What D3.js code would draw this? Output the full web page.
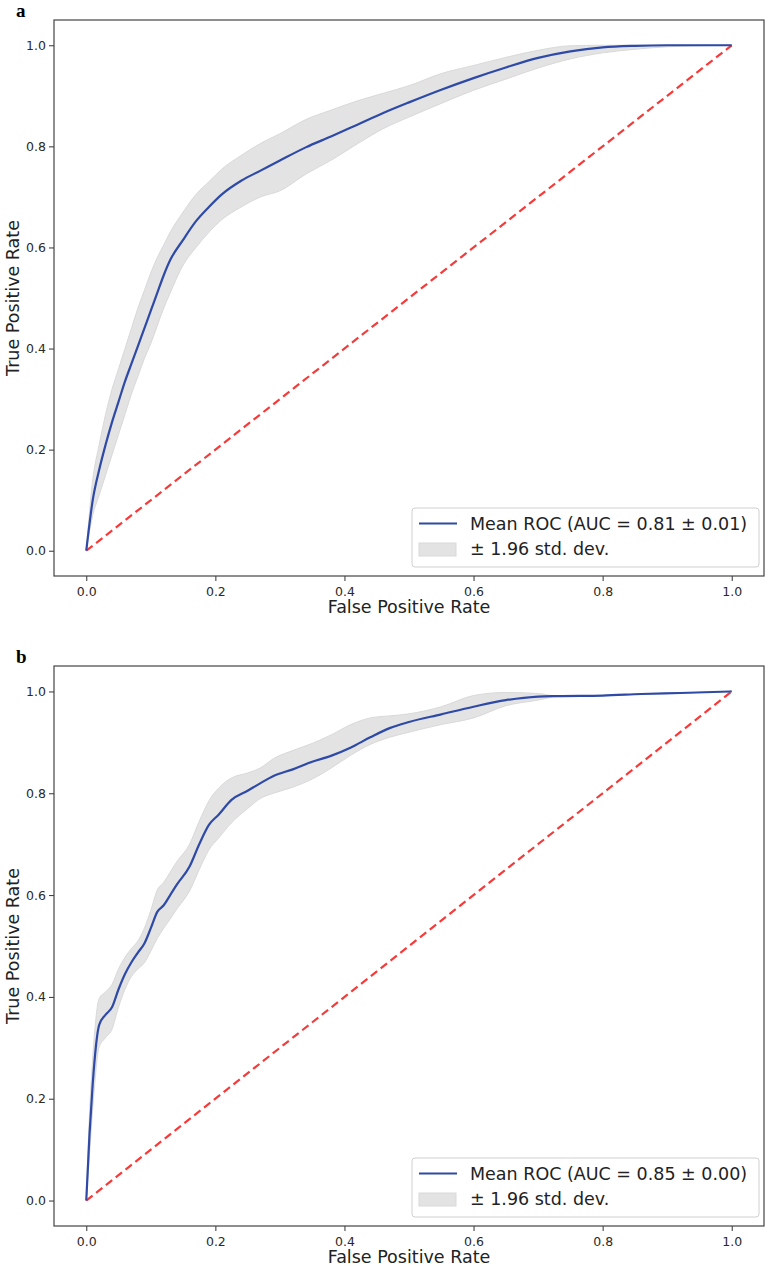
<!DOCTYPE html>
<html>
<head>
<meta charset="utf-8">
<script src="https://cdn.jsdelivr.net/npm/d3@7"></script>
<style>
  body { margin: 0; background: #fff; }
  svg { display: block; font-family: "DejaVu Sans", sans-serif; }
</style>
</head>
<body>
<div id="chart"></div>
<script>
// panel a values
const fprA = [0, 0.01, 0.02, 0.03, 0.04, 0.05, 0.06, 0.07, 0.08, 0.09, 0.10, 0.11, 0.12, 0.13, 0.15, 0.17, 0.19, 0.21, 0.24, 0.27, 0.30, 0.34, 0.38, 0.42, 0.46, 0.50, 0.55, 0.60, 0.65, 0.70, 0.75, 0.80, 0.85, 0.90, 1.0];
const meanA = [0, 0.10, 0.16, 0.21, 0.255, 0.295, 0.335, 0.37, 0.405, 0.44, 0.475, 0.51, 0.545, 0.575, 0.615, 0.652, 0.68, 0.705, 0.732, 0.752, 0.772, 0.798, 0.82, 0.843, 0.866, 0.887, 0.912, 0.935, 0.956, 0.975, 0.988, 0.996, 0.999, 1.0, 1.0];
const upperA = [0, 0.14, 0.21, 0.27, 0.32, 0.36, 0.40, 0.44, 0.48, 0.515, 0.55, 0.58, 0.605, 0.63, 0.67, 0.705, 0.73, 0.755, 0.782, 0.806, 0.825, 0.853, 0.872, 0.89, 0.905, 0.92, 0.944, 0.96, 0.976, 0.99, 0.999, 1.0, 1.0, 1.0, 1.0];
const lowerA = [0, 0.07, 0.11, 0.15, 0.19, 0.23, 0.27, 0.31, 0.345, 0.38, 0.41, 0.445, 0.48, 0.51, 0.565, 0.60, 0.63, 0.655, 0.68, 0.70, 0.712, 0.745, 0.773, 0.805, 0.835, 0.858, 0.885, 0.911, 0.933, 0.955, 0.973, 0.985, 0.992, 0.997, 1.0];

// panel b values
const fprB = [0, 0.005, 0.01, 0.02, 0.03, 0.04, 0.05, 0.06, 0.07, 0.08, 0.09, 0.10, 0.11, 0.12, 0.13, 0.14, 0.16, 0.175, 0.19, 0.205, 0.225, 0.25, 0.27, 0.29, 0.32, 0.35, 0.38, 0.41, 0.44, 0.47, 0.50, 0.55, 0.60, 0.65, 0.70, 0.73, 0.80, 0.86, 0.92, 1.0];
const meanB = [0, 0.13, 0.23, 0.345, 0.365, 0.38, 0.415, 0.445, 0.468, 0.487, 0.505, 0.535, 0.567, 0.58, 0.60, 0.62, 0.656, 0.70, 0.738, 0.758, 0.787, 0.805, 0.82, 0.834, 0.847, 0.862, 0.874, 0.89, 0.91, 0.928, 0.94, 0.955, 0.97, 0.983, 0.99, 0.991, 0.992, 0.995, 0.997, 1.0];
const upperB = [0, 0.17, 0.28, 0.397, 0.41, 0.425, 0.455, 0.478, 0.495, 0.51, 0.535, 0.57, 0.61, 0.625, 0.645, 0.665, 0.70, 0.745, 0.785, 0.81, 0.83, 0.84, 0.85, 0.868, 0.884, 0.898, 0.915, 0.935, 0.948, 0.952, 0.956, 0.97, 0.992, 0.998, 0.996, 0.991, 0.992, 0.995, 0.997, 1.0];
const lowerB = [0, 0.09, 0.18, 0.302, 0.32, 0.337, 0.38, 0.415, 0.44, 0.455, 0.467, 0.49, 0.515, 0.535, 0.553, 0.572, 0.608, 0.65, 0.689, 0.712, 0.742, 0.77, 0.79, 0.80, 0.812, 0.828, 0.85, 0.875, 0.896, 0.91, 0.92, 0.935, 0.948, 0.972, 0.983, 0.99, 0.992, 0.995, 0.997, 1.0];

const ticks = [0.0, 0.2, 0.4, 0.6, 0.8, 1.0];
const legendLabels = ['Mean ROC (AUC = 0.81 ± 0.01)', 'Mean ROC (AUC = 0.85 ± 0.00)'];
const bandLabel = '± 1.96 std. dev.';
const panelLetters = ['a', 'b'];

const w = 771;
const h = 1269;

const svg = d3.select('#chart').append('svg')
  .attr('width', w)
  .attr('height', h);

function drawPanel(fpr, mean, upper, lower, top, bottom, letter, legendText) {
  const left = 54, right = 764;

  const xScale = d3.scaleLinear().domain([-0.05, 1.05]).range([left, right]);
  const yScale = d3.scaleLinear().domain([-0.05, 1.05]).range([bottom, top]);

  const g = svg.append('g');

  // panel letter
  g.append('text')
    .attr('x', 16)
    .attr('y', top - 3)
    .attr('font-family', '"Liberation Serif", serif')
    .attr('font-weight', 'bold')
    .attr('font-size', 19)
    .text(letter);

  const rows = fpr.map((d, i) => ({ x: d, m: mean[i], hi: upper[i], lo: lower[i] }));

  const area = d3.area()
    .x(d => xScale(d.x))
    .y0(d => yScale(d.lo))
    .y1(d => yScale(d.hi))
    .curve(d3.curveMonotoneX);

  g.append('path')
    .datum(rows)
    .attr('d', area)
    .attr('fill', '#e3e3e3')
    .attr('stroke', '#d9d9d9')
    .attr('stroke-width', 1);

  // chance line
  g.append('line')
    .attr('x1', xScale(0)).attr('y1', yScale(0))
    .attr('x2', xScale(1)).attr('y2', yScale(1))
    .attr('stroke', '#f53a3a')
    .attr('stroke-width', 2.2)
    .attr('stroke-dasharray', '8,4.5');

  const line = d3.line()
    .x(d => xScale(d.x))
    .y(d => yScale(d.m))
    .curve(d3.curveMonotoneX);

  g.append('path')
    .datum(rows)
    .attr('d', line)
    .attr('fill', 'none')
    .attr('stroke', '#2e4aa6')
    .attr('stroke-width', 2.2);

  // X-AXIS
  const xAxis = d3.axisBottom(xScale).tickValues(ticks).tickFormat(d3.format('.1f')).tickSize(5).tickSizeOuter(0);
  const gx = g.append('g')
    .attr('transform', 'translate(0, ' + bottom + ')')
    .call(xAxis);
  gx.select('.domain').remove();
  gx.selectAll('line').attr('stroke', '#333');
  gx.selectAll('text').attr('font-size', 12.5).attr('font-family', '"DejaVu Sans", sans-serif').attr('fill', '#2a2a2a').attr('dy', '0.95em');

  // Y-AXIS
  const yAxis = d3.axisLeft(yScale).tickValues(ticks).tickFormat(d3.format('.1f')).tickSize(5).tickSizeOuter(0);
  const gy = g.append('g')
    .attr('transform', 'translate(' + left + ', 0)')
    .call(yAxis);
  gy.select('.domain').remove();
  gy.selectAll('line').attr('stroke', '#333');
  gy.selectAll('text').attr('font-size', 12.5).attr('font-family', '"DejaVu Sans", sans-serif').attr('fill', '#2a2a2a');

  // frame
  g.append('rect')
    .attr('x', left).attr('y', top)
    .attr('width', right - left).attr('height', bottom - top)
    .attr('fill', 'none')
    .attr('stroke', '#444')
    .attr('stroke-width', 1.2);

  // axis labels
  g.append('text')
    .attr('x', (left + right) / 2)
    .attr('y', bottom + 37)
    .attr('text-anchor', 'middle')
    .attr('font-size', 17.5)
    .attr('fill', '#222')
    .text('False Positive Rate');

  g.append('text')
    .attr('transform', 'translate(19, ' + ((top + bottom) / 2) + ') rotate(-90)')
    .attr('text-anchor', 'middle')
    .attr('font-size', 17.5)
    .attr('fill', '#222')
    .text('True Positive Rate');

  // legend
  const lx = 412, ly = bottom - 68, lw = 347, lh = 59;
  g.append('rect')
    .attr('x', lx).attr('y', ly)
    .attr('width', lw).attr('height', lh)
    .attr('rx', 3)
    .attr('fill', 'white')
    .attr('fill-opacity', 0.85)
    .attr('stroke', '#d0d0d0');

  g.append('line')
    .attr('x1', lx + 7).attr('x2', lx + 45)
    .attr('y1', ly + 15.5).attr('y2', ly + 15.5)
    .attr('stroke', '#2e4aa6')
    .attr('stroke-width', 2.2);

  g.append('rect')
    .attr('x', lx + 7).attr('y', ly + 35)
    .attr('width', 37).attr('height', 13)
    .attr('fill', '#e3e3e3')
    .attr('stroke', '#d9d9d9');

  g.append('text')
    .attr('x', lx + 58).attr('y', ly + 15.5)
    .attr('dy', '0.36em')
    .attr('font-size', 17.5)
    .attr('fill', '#222')
    .text(legendText);

  g.append('text')
    .attr('x', lx + 58).attr('y', ly + 41)
    .attr('dy', '0.36em')
    .attr('font-size', 17.5)
    .attr('fill', '#222')
    .text(bandLabel);
}

drawPanel(fprA, meanA, upperA, lowerA, 20, 576, panelLetters[0], legendLabels[0]);
drawPanel(fprB, meanB, upperB, lowerB, 666, 1226, panelLetters[1], legendLabels[1]);
</script>
</body>
</html>
